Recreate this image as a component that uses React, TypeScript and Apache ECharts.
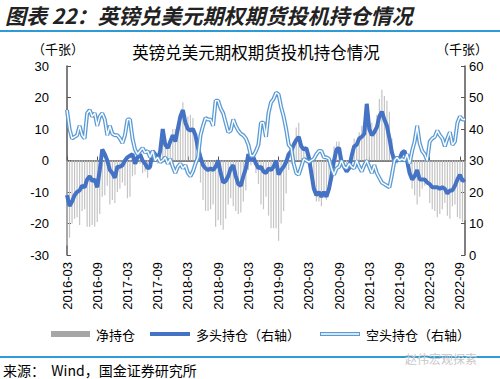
import React, { useEffect, useRef } from "react";
import * as echarts from "echarts";

// Semi-monthly observations from 2016-03-01 to 2022-10-01 (thousand contracts)
const START_YEAR = 2016;
const START_MONTH = 3;
const TICK_LABELS = [
  "2016-03", "2016-09", "2017-03", "2017-09", "2018-03", "2018-09", "2019-03",
  "2019-09", "2020-03", "2020-09", "2021-03", "2021-09", "2022-03", "2022-09",
];

// 多头持仓（右轴）
const LONG = [
  19, 15.5, 17, 19, 20, 20.5, 22, 21.5, 24, 25, 23.5, 24, 21.5, 27, 33.5, 32, 30, 27, 26, 24.5,
  28, 28, 28.5, 30, 31, 31.5, 32, 29, 31, 32, 30, 29, 27.5, 28, 33, 32, 30, 33, 40, 35,
  34, 36, 38, 36, 40, 44, 46, 42, 40, 39.5, 40, 38, 34, 31, 28.5, 27.5, 27, 27.5, 27, 28,
  30, 26, 23, 23.5, 25, 27.5, 28.5, 25, 22.5, 22, 25, 27.5, 32, 30, 31, 29, 27.5, 28, 26.5, 26,
  27.5, 27, 28, 30, 25.5, 27, 28, 29.5, 32, 33, 35, 36.5, 37.5, 34.5, 33.5, 34, 31, 26, 21, 19,
  20, 18.5, 20, 18.5, 21, 25, 30, 33.5, 34, 29.5, 28, 26.5, 27.5, 31.5, 34.5, 35, 37, 37.5, 38.5, 48,
  40, 38, 39, 40.5, 44, 45.5, 43, 41, 37, 32.5, 30, 30, 30.5, 32.5, 33, 30, 26, 24, 25, 27,
  24, 24, 24, 23, 22.5, 21.5, 21.5, 21.5, 21, 21.5, 21, 19.5, 20.5, 20.5, 22, 24, 25.5, 23.5, 24,
];

// 空头持仓（右轴）
const SHORT = [
  46, 40, 37, 37.5, 38, 41, 38, 37, 45, 46, 44, 45, 41, 44, 45, 43, 38, 41, 38.5, 38,
  38, 37, 35.5, 38, 43, 43, 37, 33.5, 32, 33, 34, 32.5, 33, 31, 33, 30, 31, 29.5, 30, 31,
  29, 30.5, 28, 26, 28, 29, 27.5, 28.5, 26, 25, 26.5, 29, 31, 38, 41, 43.5, 43, 43, 41, 49,
  49, 46.5, 45, 42, 39, 39.5, 43, 41, 39.5, 38.5, 38, 37, 35, 31.5, 31.5, 33, 35, 42, 42, 37.5,
  45, 48.5, 49.5, 51.5, 51, 47, 44, 40, 35, 34, 29, 26, 25.5, 28, 30.5, 30, 29.5, 30, 30.5, 32,
  33, 33, 31, 31, 30.5, 27.5, 25.5, 27.5, 28, 30, 28, 27.5, 29, 28, 27.5, 30, 28, 26.5, 28.5, 30,
  28, 26, 28.5, 26, 24.5, 23, 22.5, 22, 21.5, 25.5, 30, 31, 30, 30.5, 30, 32, 29, 33, 36, 41,
  35.5, 33, 32, 30, 36, 37, 37.5, 39.5, 38, 37, 34.5, 37, 39, 35, 36, 42, 44, 43, 43,
];

// 净持仓
const NET = [
  -27, -24.5, -20, -18.5, -18, -20.5, -16, -15.5, -21, -21, -20.5, -21, -19.5, -17, -11.5, -11, -8, -14, -12.5, -13.5,
  -10, -9, -7, -8, -12, -11.5, -5, -4.5, -1, -1, -4, -3.5, -5.5, -3, 0, 2, -1, 3.5, 10, 4,
  5, 5.5, 10, 10, 12, 15, 18.5, 13.5, 14, 14.5, 13.5, 9, 3, -7, -12.5, -16, -16, -15.5, -14, -21,
  -19, -20.5, -22, -18.5, -14, -12, -14.5, -16, -17, -16.5, -13, -9.5, -3, -1.5, -0.5, -4, -7.5, -14, -15.5, -11.5,
  -17.5, -21.5, -21.5, -21.5, -25.5, -20, -16, -10.5, -3, -1, 6, 10.5, 12, 6.5, 3, 4, 1.5, -4, -9.5, -13,
  -13, -14.5, -11, -12.5, -9.5, -2.5, 4.5, 6, 6, -0.5, 0, -1, -1.5, 3.5, 7, 5, 9, 11, 10, 18,
  12, 12, 10.5, 14.5, 19.5, 22.5, 20.5, 19, 15.5, 7, 0, -1, 0.5, 2, 3, -2, -3, -9, -11, -14,
  -11.5, -9, -8, -7, -13.5, -15.5, -16, -18, -17, -15.5, -13.5, -17.5, -18.5, -14.5, -14, -18, -18.5, -19.5, -19,
];

const pad = (n: number) => (n < 10 ? "0" + n : "" + n);
const DATES: string[] = [];
for (let i = 0; i < NET.length; i++) {
  const mIdx = START_MONTH - 1 + Math.floor(i / 2);
  const y = START_YEAR + Math.floor(mIdx / 12);
  const m = (mIdx % 12) + 1;
  DATES.push(`${y}-${pad(m)}-${i % 2 === 0 ? "01" : "15"}`);
}

const isTick = (value: string) =>
  value.endsWith("-01") && TICK_LABELS.includes(value.slice(0, 7));

const FONT = "'Liberation Sans', 'Noto Sans CJK SC', sans-serif";
const CJK = "'Noto Sans CJK SC', sans-serif";
const C_LONG = "#4472C4";
const C_SHORT = "#5B9BD5";
const C_NET = "#C4C4C4";
const C_RULE = "#2E9BD6";

export default function App() {
  const ref = useRef<HTMLDivElement>(null);
  useEffect(() => {
    if (!ref.current) return;
    const chart = echarts.init(ref.current, null, { renderer: "svg" });
    chart.setOption({
      animation: false,
      backgroundColor: "#fff",
      textStyle: { fontFamily: FONT },
      grid: { left: 67, right: 35, top: 66, bottom: 124, containLabel: false },
      xAxis: [
        {
          type: "category",
          data: DATES,
          boundaryGap: false,
          position: "bottom",
          axisLine: { show: false, onZero: false },
          axisTick: { show: false },
          axisLabel: {
            interval: (i: number, v: string) => isTick(v),
            formatter: (v: string) => v.slice(0, 7),
            rotate: 90,
            margin: 7,
            fontSize: 13,
            color: "#000",
            fontFamily: FONT,
          },
          splitLine: { show: false },
        },
        {
          type: "category",
          data: DATES,
          boundaryGap: false,
          position: "bottom",
          axisLine: { show: true, onZero: true, lineStyle: { color: "#555", width: 1.5 } },
          axisTick: {
            show: true,
            inside: true,
            length: 4,
            interval: (i: number, v: string) => isTick(v),
            lineStyle: { color: "#555" },
          },
          axisLabel: { show: false },
          splitLine: { show: false },
        },
      ],
      yAxis: [
        {
          type: "value",
          min: -30,
          max: 30,
          interval: 10,
          axisLine: { show: true, lineStyle: { color: "#555", width: 1.5 } },
          axisTick: { show: true, inside: true, length: 4, lineStyle: { color: "#555" } },
          axisLabel: { fontSize: 13, color: "#000", margin: 18, fontFamily: FONT },
          splitLine: { show: false },
        },
        {
          type: "value",
          min: 0,
          max: 60,
          interval: 10,
          position: "right",
          axisLine: { show: true, lineStyle: { color: "#555", width: 1.5 } },
          axisTick: { show: true, inside: true, length: 4, lineStyle: { color: "#555" } },
          axisLabel: { fontSize: 13, color: "#000", margin: 4, fontFamily: FONT },
          splitLine: { show: false },
        },
      ],
      series: [
        {
          name: "净持仓",
          type: "bar",
          data: NET,
          xAxisIndex: 0,
          yAxisIndex: 0,
          barWidth: 1.2,
          itemStyle: { color: C_NET },
          z: 1,
        },
        {
          name: "多头持仓（右轴）",
          type: "line",
          data: LONG,
          xAxisIndex: 0,
          yAxisIndex: 1,
          showSymbol: false,
          symbol: "none",
          lineStyle: { color: C_LONG, width: 4 },
          z: 3,
        },
        {
          name: "空头持仓（右轴）",
          type: "line",
          data: SHORT,
          xAxisIndex: 0,
          yAxisIndex: 1,
          symbol: "none",
          lineStyle: { color: C_SHORT, width: 4 },
          z: 4,
        },
        {
          name: "空头内线",
          type: "line",
          data: SHORT,
          xAxisIndex: 0,
          yAxisIndex: 1,
          symbol: "none",
          lineStyle: { color: "#fff", width: 1.4 },
          z: 5,
        },
      ],
      graphic: [
        {
          type: "text",
          x: 5,
          y: 15,
          style: {
            text: "图表 22：英镑兑美元期权期货投机持仓情况",
            fontSize: 21,
            fontWeight: "bold",
            fontStyle: "italic",
            fill: "#222",
            fontFamily: CJK,
            textVerticalAlign: "middle",
          },
        },
        {
          type: "rect",
          shape: { x: 0, y: 30, width: 500, height: 2 },
          style: { fill: C_RULE },
        },
        {
          type: "text",
          x: 256,
          y: 52,
          style: {
            text: "英镑兑美元期权期货投机持仓情况",
            fontSize: 16.5,
            fill: "#000",
            fontFamily: CJK,
            textAlign: "center",
            textVerticalAlign: "middle",
          },
        },
        {
          type: "text",
          x: 58,
          y: 48,
          style: { text: "（千张）", fontSize: 13, fill: "#000", fontFamily: CJK, textAlign: "center", textVerticalAlign: "middle" },
        },
        {
          type: "text",
          x: 462,
          y: 48,
          style: { text: "（千张）", fontSize: 13, fill: "#000", fontFamily: CJK, textAlign: "center", textVerticalAlign: "middle" },
        },
        // legend
        { type: "rect", shape: { x: 51, y: 331, width: 39, height: 6 }, style: { fill: "#A6A6A6" } },
        {
          type: "text",
          x: 96,
          y: 334,
          style: { text: "净持仓", fontSize: 13, fill: "#000", fontFamily: CJK, textVerticalAlign: "middle" },
        },
        {
          type: "line",
          shape: { x1: 150, y1: 334, x2: 190, y2: 334 },
          style: { stroke: C_LONG, lineWidth: 4 },
        },
        {
          type: "text",
          x: 196,
          y: 334,
          style: { text: "多头持仓（右轴）", fontSize: 13, fill: "#000", fontFamily: CJK, textVerticalAlign: "middle" },
        },
        {
          type: "line",
          shape: { x1: 320, y1: 334, x2: 360, y2: 334 },
          style: { stroke: C_SHORT, lineWidth: 4 },
        },
        {
          type: "line",
          shape: { x1: 321, y1: 334, x2: 359, y2: 334 },
          style: { stroke: "#fff", lineWidth: 1.4 },
        },
        {
          type: "text",
          x: 366,
          y: 334,
          style: { text: "空头持仓（右轴）", fontSize: 13, fill: "#000", fontFamily: CJK, textVerticalAlign: "middle" },
        },
        {
          type: "rect",
          shape: { x: 0, y: 356, width: 500, height: 2 },
          style: { fill: C_RULE },
        },
        {
          type: "text",
          x: 405,
          y: 358,
          style: { text: "赵伟宏观探索", fontSize: 12, fill: "#C8C8C8", fontFamily: CJK, textVerticalAlign: "middle" },
        },
        {
          type: "text",
          x: 3,
          y: 370,
          style: { text: "来源：  Wind，国金证券研究所", fontSize: 14, fill: "#000", fontFamily: CJK, textVerticalAlign: "middle" },
        },
      ],
    });
    return () => chart.dispose();
  }, []);
  return (
    <div
      ref={ref}
      style={{ position: "fixed", left: 0, top: 0, width: 500, height: 379, background: "#fff" }}
    />
  );
}
